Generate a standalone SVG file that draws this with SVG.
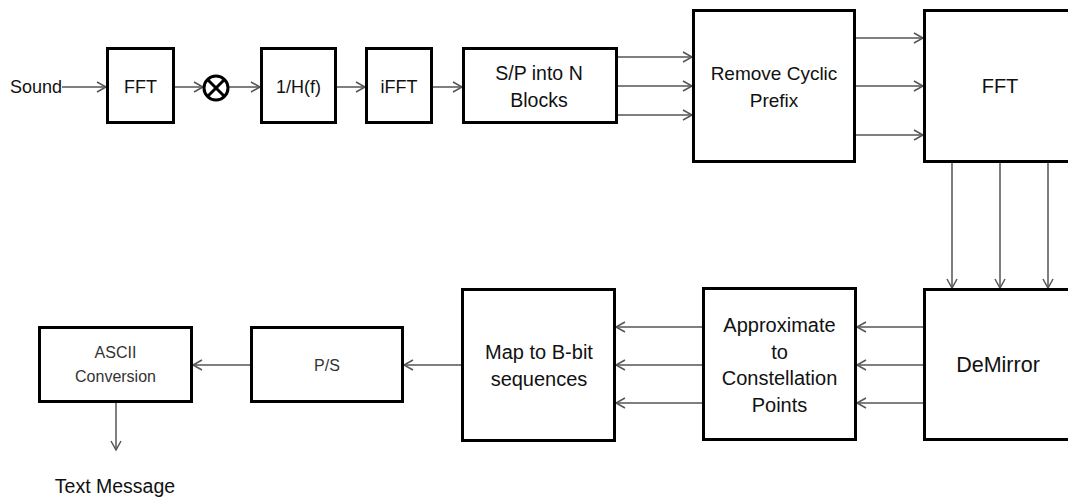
<svg xmlns="http://www.w3.org/2000/svg" width="1068" height="500" viewBox="0 0 1068 500">
<style>
.box{fill:#fff;stroke:#000;stroke-width:3}
.c{fill:none;stroke:#555;stroke-width:1.5;marker-end:url(#ah)}
text{font-family:"Liberation Sans",Arial,sans-serif;fill:#111;text-anchor:middle}
.m{font-size:18px}
.b{font-size:20px}
.s{font-size:16px;fill:#333}
</style>
<defs>
<marker id="ah" markerUnits="userSpaceOnUse" markerWidth="12" markerHeight="12" refX="10" refY="6" orient="auto">
<path d="M1,1 L10,6 L1,11" fill="none" stroke="#555" stroke-width="1.5"/>
</marker>
</defs>
<rect width="1068" height="500" fill="#fff"/>
<g id="connectors">
<line class="c" x1="62" y1="87" x2="106" y2="87"/>
<line class="c" x1="175" y1="87" x2="203" y2="87"/>
<line class="c" x1="229" y1="87" x2="260" y2="87"/>
<line class="c" x1="337" y1="87" x2="365" y2="87"/>
<line class="c" x1="433" y1="87" x2="462" y2="87"/>
<line class="c" x1="618" y1="57" x2="692" y2="57"/>
<line class="c" x1="618" y1="86" x2="692" y2="86"/>
<line class="c" x1="618" y1="115" x2="692" y2="115"/>
<line class="c" x1="856" y1="38" x2="923" y2="38"/>
<line class="c" x1="856" y1="86" x2="923" y2="86"/>
<line class="c" x1="856" y1="135" x2="923" y2="135"/>
<line class="c" x1="952" y1="163" x2="952" y2="288"/>
<line class="c" x1="1000" y1="163" x2="1000" y2="288"/>
<line class="c" x1="1048" y1="163" x2="1048" y2="288"/>
<line class="c" x1="923" y1="327" x2="857" y2="327"/>
<line class="c" x1="923" y1="365" x2="857" y2="365"/>
<line class="c" x1="923" y1="403" x2="857" y2="403"/>
<line class="c" x1="702" y1="327" x2="616" y2="327"/>
<line class="c" x1="702" y1="365" x2="616" y2="365"/>
<line class="c" x1="702" y1="403" x2="616" y2="403"/>
<line class="c" x1="461" y1="365" x2="404" y2="365"/>
<line class="c" x1="250" y1="365" x2="193" y2="365"/>
<line class="c" x1="116" y1="403" x2="116" y2="450"/>
</g>
<g id="sound"><text class="m" x="36" y="93">Sound</text></g>
<g id="fft1"><rect class="box" x="107.5" y="48.5" width="66" height="74"/><text class="m" x="140.5" y="93">FFT</text></g>
<g id="mult"><circle cx="216" cy="88" r="12" fill="#fff" stroke="#000" stroke-width="3"/><path d="M207.5,79.5 L224.5,96.5 M224.5,79.5 L207.5,96.5" stroke="#000" stroke-width="3"/></g>
<g id="invh"><rect class="box" x="261.5" y="48.5" width="74" height="74"/><text class="m" x="298.5" y="93">1/H(f)</text></g>
<g id="ifft"><rect class="box" x="366.5" y="48.5" width="65" height="74"/><text class="m" x="399" y="93">iFFT</text></g>
<g id="sp"><rect class="box" x="463.5" y="48.5" width="153" height="74"/><text style="font-size:19.5px" x="539" y="80">S/P into N</text><text style="font-size:19.5px" x="539" y="107">Blocks</text></g>
<g id="rcp"><rect class="box" x="693.5" y="10.5" width="161" height="151"/><text style="font-size:19px" x="774" y="80">Remove Cyclic</text><text style="font-size:19px" x="774" y="107">Prefix</text></g>
<g id="fft2"><rect class="box" x="924.5" y="10.5" width="160" height="151"/><text class="b" x="1000" y="93">FFT</text></g>
<g id="demirror"><rect class="box" x="924.5" y="289.5" width="160" height="150"/><text style="font-size:21.5px" x="998" y="372">DeMirror</text></g>
<g id="approx"><rect class="box" x="703.5" y="288.5" width="152" height="151"/><text class="b" x="779.5" y="332">Approximate</text><text class="b" x="779.5" y="358.5">to</text><text class="b" x="779.5" y="385">Constellation</text><text class="b" x="779.5" y="411.5">Points</text></g>
<g id="map"><rect class="box" x="462.5" y="289.5" width="152" height="151"/><text class="b" x="539" y="359">Map to B-bit</text><text class="b" x="539" y="385.5">sequences</text></g>
<g id="ps"><rect class="box" x="251.5" y="327.5" width="151" height="74"/><text class="s" x="327" y="371">P/S</text></g>
<g id="ascii"><rect class="box" x="39.5" y="327.5" width="152" height="74"/><text class="s" x="115.5" y="358">ASCII</text><text class="s" x="115.5" y="382">Conversion</text></g>
<g id="textmsg"><text style="font-size:19.5px" x="115" y="493">Text Message</text></g>
</svg>
